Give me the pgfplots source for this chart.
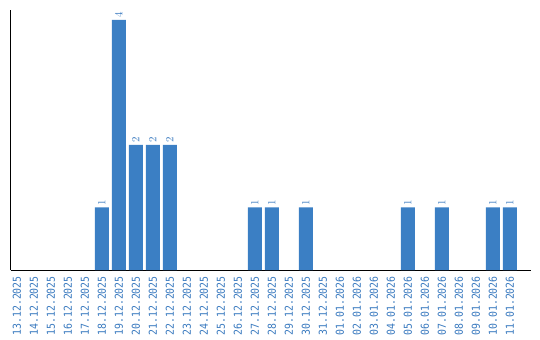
\documentclass[border=0pt]{standalone}
\usepackage{pgfplots}
\pgfplotsset{compat=1.18}
\usepackage{fontspec}
\setmonofont[FakeStretch=0.9]{DejaVu Sans Mono}
\definecolor{barblue}{RGB}{59,127,196}
\definecolor{lblblue}{RGB}{58,122,191}
\begin{document}
\begin{tikzpicture}
\path[use as bounding box] (0,0) rectangle (540bp,340bp);
\begin{axis}[
  at={(10.5bp,70bp)}, anchor=south west,
  width=520.2bp, height=260bp, scale only axis,
  xmin=-0.38, xmax=30.22, ymin=0, ymax=4.16,
  axis x line=bottom, axis y line=left,
  axis line style={-, line width=0.9bp, black},
  ytick=\empty,
  xtick={0,...,29},
  xticklabels={13.12.2025,14.12.2025,15.12.2025,16.12.2025,17.12.2025,18.12.2025,19.12.2025,20.12.2025,21.12.2025,22.12.2025,23.12.2025,24.12.2025,25.12.2025,26.12.2025,27.12.2025,28.12.2025,29.12.2025,30.12.2025,31.12.2025,01.01.2026,02.01.2026,03.01.2026,04.01.2026,05.01.2026,06.01.2026,07.01.2026,08.01.2026,09.01.2026,10.01.2026,11.01.2026},
  major tick length=0pt,
  xticklabel style={rotate=90, anchor=east, font=\ttfamily\fontsize{11}{12}\selectfont, text=lblblue, inner sep=0pt},
  xtick style={draw=none},
  every tick label/.append style={yshift=-6bp},
  clip=false,
]
\addplot[ybar, bar width=14bp, fill=barblue, draw=none,
  nodes near coords,
  every node near coord/.append style={rotate=90, anchor=west, font=\ttfamily\fontsize{11}{12}\selectfont, text=lblblue, inner sep=2bp}]
coordinates {(5,1) (6,4) (7,2) (8,2) (9,2) (14,1) (15,1) (17,1) (23,1) (25,1) (28,1) (29,1)};
\end{axis}
\end{tikzpicture}
\end{document}
